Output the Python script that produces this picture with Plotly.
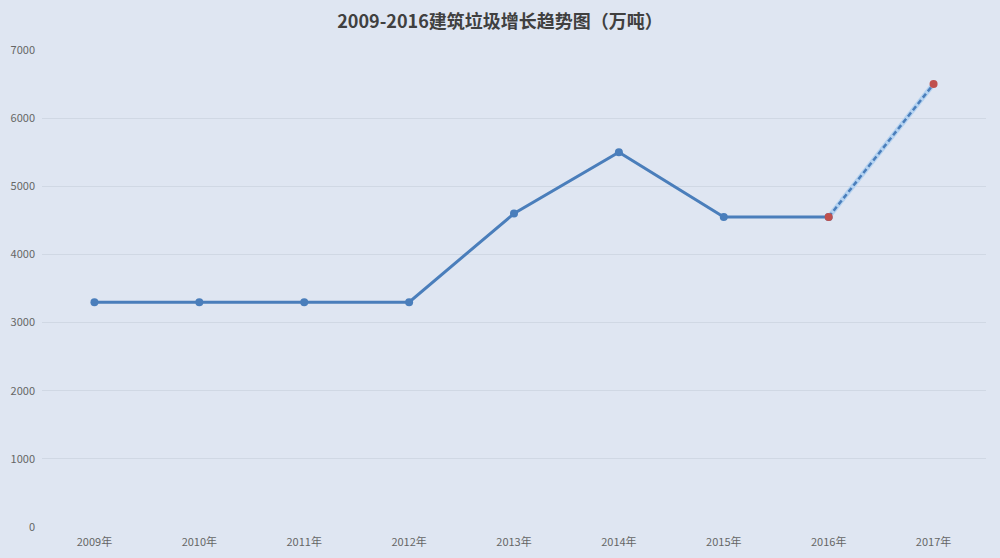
import plotly.graph_objects as go

years = ["2009年", "2010年", "2011年", "2012年", "2013年", "2014年", "2015年", "2016年", "2017年"]
actual_years = years[:8]
actual_values = [3300, 3300, 3300, 3300, 4600, 5500, 4550, 4550]
forecast_years = ["2016年", "2017年"]
forecast_values = [4550, 6500]
y_ticks = [0, 1000, 2000, 3000, 4000, 5000, 6000, 7000]
title_text = "2009-2016建筑垃圾增长趋势图（万吨）"

font_family = "Noto Sans CJK SC, Noto Sans, sans-serif"
bg = "#dfe6f2"

fig = go.Figure()
fig.add_trace(go.Scatter(
    x=actual_years, y=actual_values, mode="lines+markers",
    line=dict(color="#4a7ebb", width=3),
    marker=dict(color="#4a7ebb", size=8),
    showlegend=False, hoverinfo="x+y",
))
# light halo under the dashed forecast segment
fig.add_trace(go.Scatter(
    x=forecast_years, y=forecast_values, mode="lines",
    line=dict(color="#b4d2f0", width=5),
    showlegend=False, hoverinfo="skip",
))
fig.add_trace(go.Scatter(
    x=forecast_years, y=forecast_values, mode="lines+markers",
    line=dict(color="#4a7ebb", width=2.5, dash="5px,3px"),
    marker=dict(color="#c0504d", size=8),
    showlegend=False, hoverinfo="x+y",
))

fig.update_layout(
    width=1000, height=558,
    margin=dict(l=42, r=14, t=50, b=31),
    paper_bgcolor=bg,
    plot_bgcolor=bg,
    title=dict(text="<b>" + title_text + "</b>", x=0.5, xanchor="center", y=0.962, yanchor="middle",
               font=dict(family=font_family, size=18, color="#404040")),
    font=dict(family=font_family, size=11, color="#666666"),
    xaxis=dict(type="category", categoryorder="array", categoryarray=years,
               range=[-0.5, 8.5], showgrid=False, zeroline=False, showline=False,
               ticks="", tickfont=dict(size=11, color="#666666"), ticklabelstandoff=7,
               automargin=False),
    yaxis=dict(range=[0, 7000], tickvals=y_ticks, showgrid=True, gridcolor="#d0d8e4",
               gridwidth=1, zeroline=False, showline=False, ticks="",
               tickfont=dict(size=11, color="#666666"), ticklabelstandoff=6,
               automargin=False),
)

fig.write_html(
    "out.html",
    config={"displayModeBar": False},
    post_script="document.body.style.margin='0';document.body.style.background='" + bg + "';",
)
